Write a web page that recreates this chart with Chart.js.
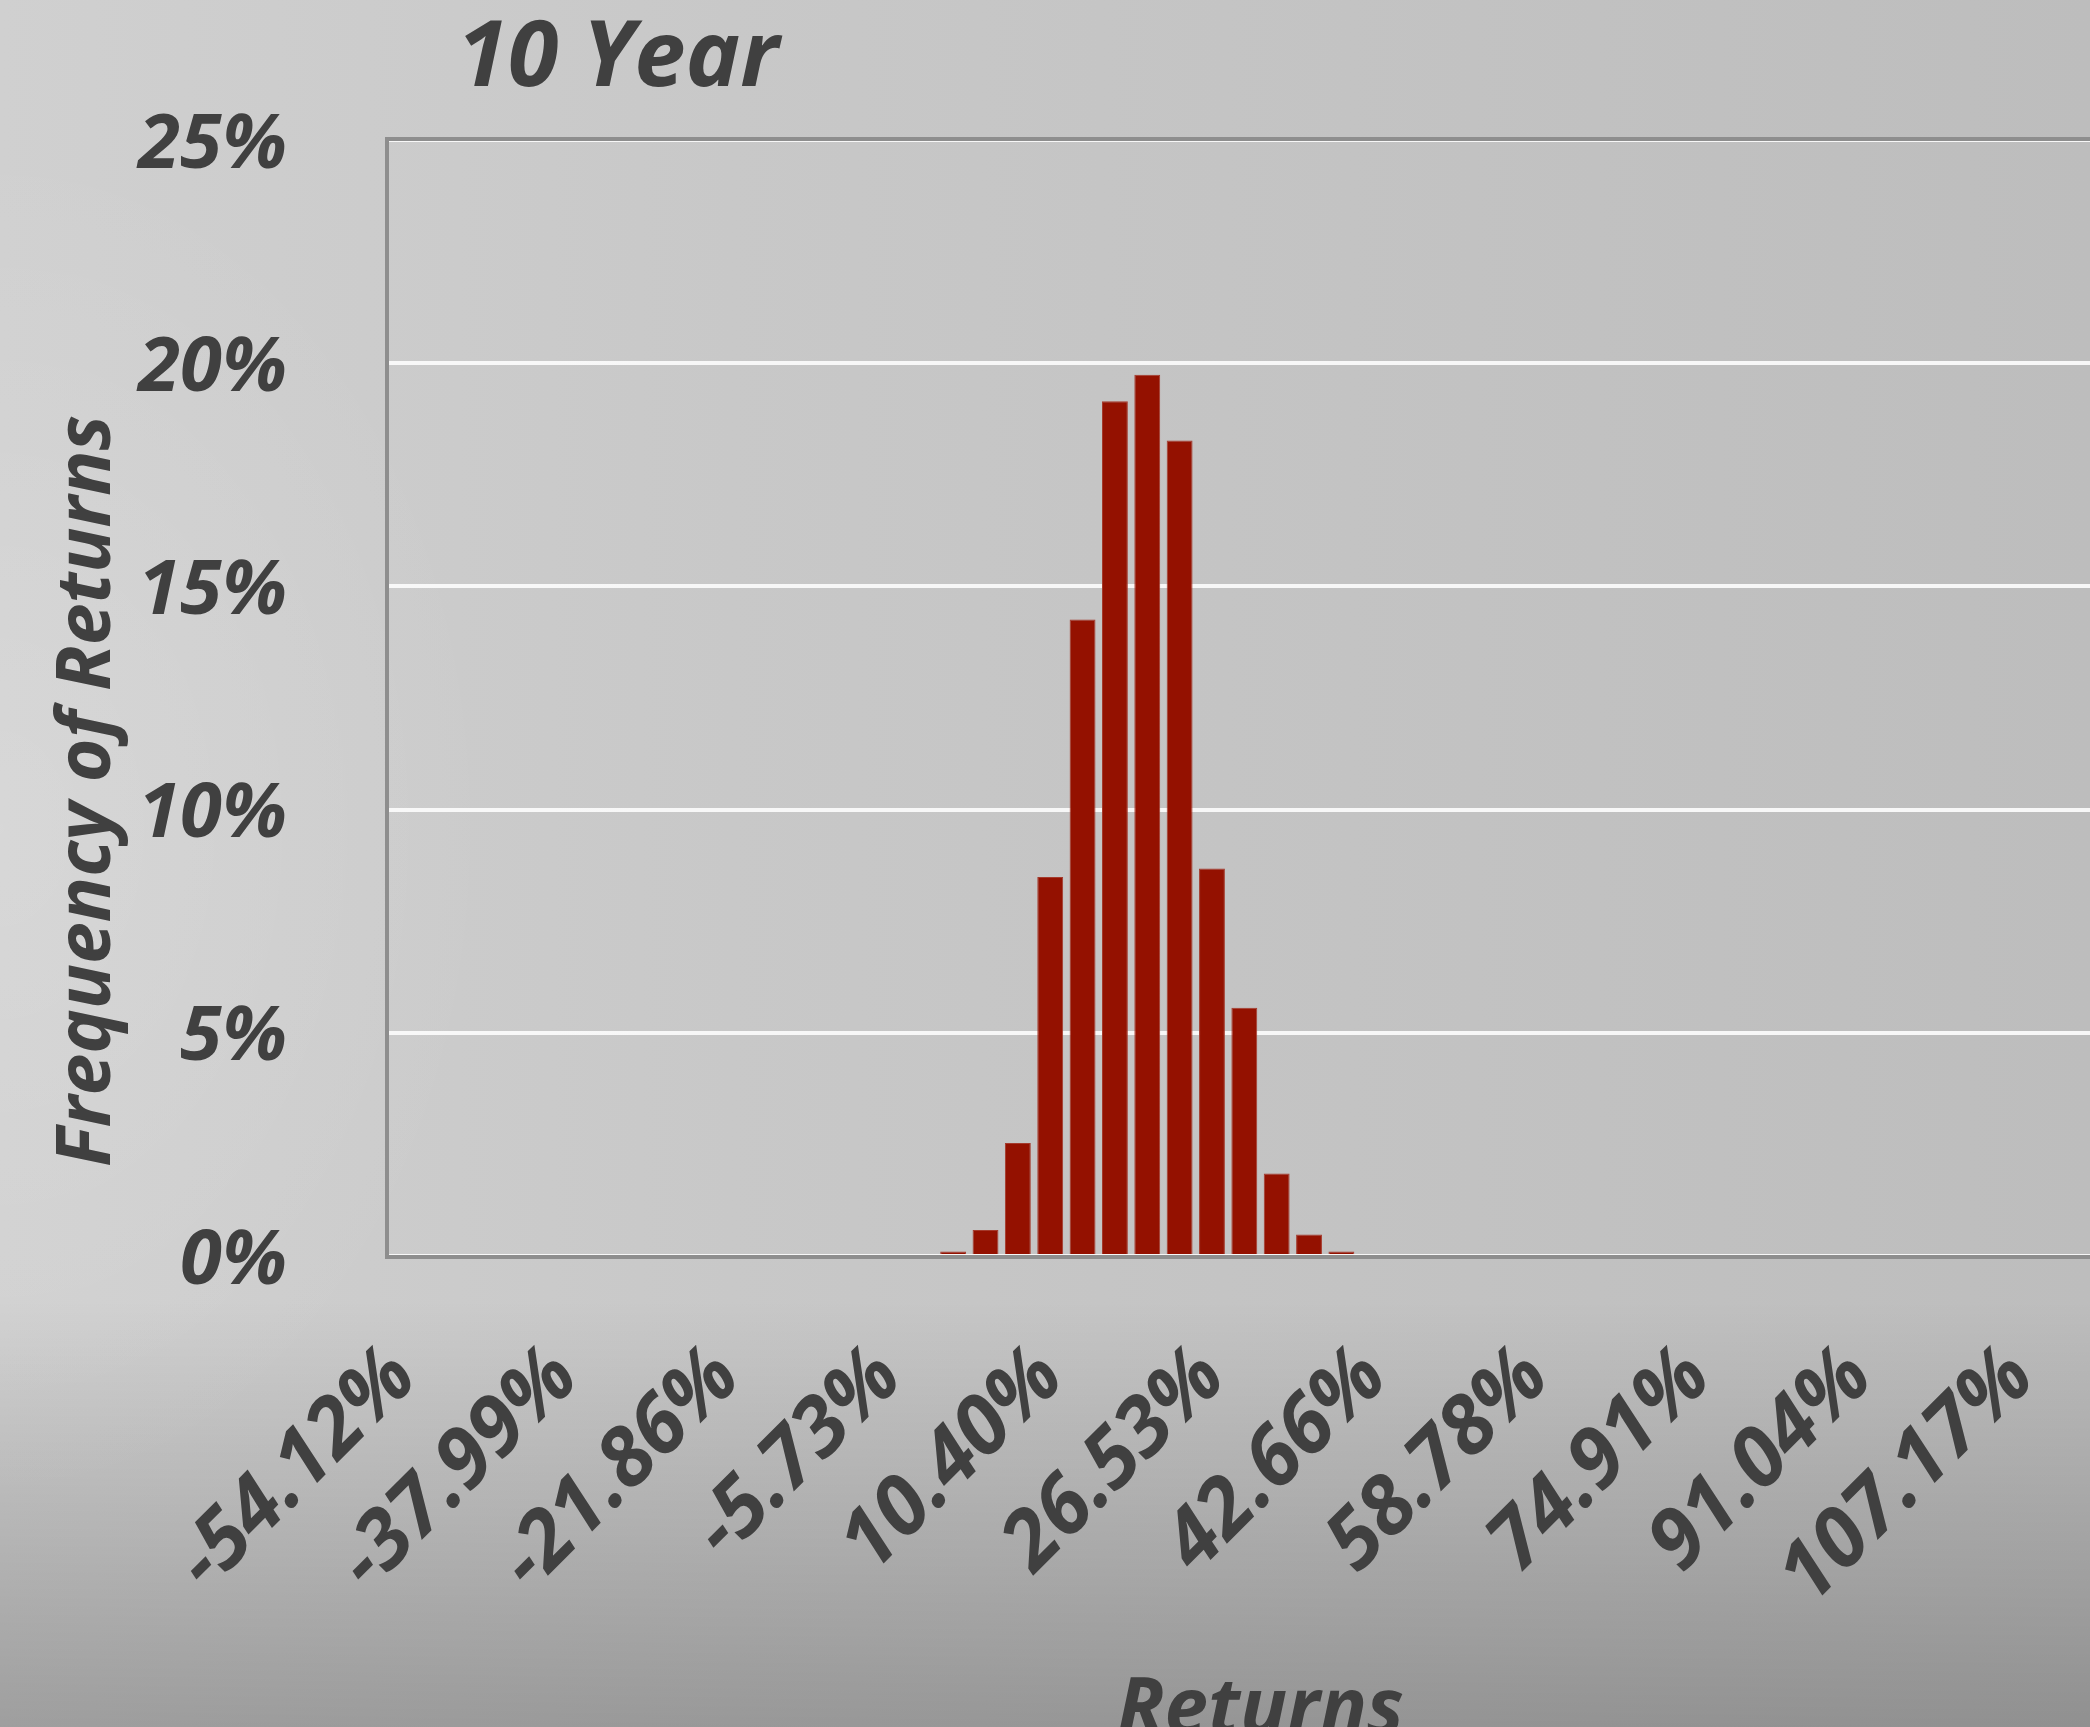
<!DOCTYPE html>
<html>
<head>
<meta charset="utf-8">
<title>10 Year</title>
<script src="https://cdn.jsdelivr.net/npm/chart.js@4.4.1/dist/chart.umd.min.js"></script>
<style>
    html, body {
        margin: 0;
        padding: 0;
        width: 2090px;
        height: 1727px;
        overflow: hidden;
    }
    body {
        background:
            linear-gradient(to bottom, rgba(0, 0, 0, 0) 0px, rgba(0, 0, 0, 0) 1300px, rgba(0, 0, 0, 0.24) 1727px),
            radial-gradient(ellipse 500px 700px at 0% 48%, rgba(255, 255, 255, 0.16), rgba(255, 255, 255, 0) 100%),
            linear-gradient(to right, #d0d0d0 0%, #c8c8c8 35%, #bdbdbd 100%);
    }
    canvas { display: block; }
</style>
</head>
<body>
<canvas id="histogram" width="2134" height="1727"></canvas>
<script>
/* ========================================
   10 year return distribution histogram
   ======================================== */

// Axis labels shown under every fifth bin
const tickLabels = ['-54.12%', '-37.99%', '-21.86%', '-5.73%', '10.40%', '26.53%',
                    '42.66%', '58.78%', '74.91%', '91.04%', '107.17%'];
const binsPerTick = 5;

// Share of returns falling in each bin (percent), one entry per bin
const frequency = [
    0, 0, 0, 0, 0, 0, 0, 0, 0, 0,
    0, 0, 0, 0, 0, 0, 0, 0.1, 0.58, 2.53,
    8.49, 14.26, 19.15, 19.74, 18.27, 8.68, 5.56, 1.85, 0.48, 0.1,
    0, 0, 0, 0, 0, 0, 0, 0, 0, 0,
    0, 0, 0, 0, 0, 0, 0, 0, 0, 0,
    0, 0, 0, 0
];

const yTicks = [0, 5, 10, 15, 20, 25];

const categories = frequency.map((_, i) =>
    i % binsPerTick === 0 && tickLabels[i / binsPerTick] ? tickLabels[i / binsPerTick] : '');

const TEXT = '#404040';
const FONT = '"Open Sans", "Noto Sans", sans-serif';

// Gray frame around the plot area
const plotFrame = {
    id: 'plotFrame',
    afterDatasetsDraw(chart) {
        const { ctx, chartArea: a } = chart;
        ctx.save();
        ctx.strokeStyle = '#8e8e8e';
        ctx.lineWidth = 4;
        ctx.beginPath();
        ctx.moveTo(a.right + 2, a.top - 1);
        ctx.lineTo(a.left, a.top - 1);
        ctx.lineTo(a.left, a.bottom + 1);
        ctx.lineTo(a.right + 2, a.bottom + 1);
        ctx.stroke();
        ctx.restore();
    }
};

// Chart title and the two axis titles
const headings = {
    id: 'headings',
    afterDraw(chart) {
        const { ctx, chartArea: a } = chart;
        ctx.save();
        ctx.fillStyle = TEXT;
        ctx.textAlign = 'center';
        ctx.textBaseline = 'alphabetic';
        ctx.font = `italic 700 92px ${FONT}`;
        ctx.fillText('10 Year', 618, 86);

        ctx.font = `italic 700 78px ${FONT}`;
        ctx.fillText('Returns', (a.left + a.right) / 2, 1734);

        ctx.translate(110, 791);
        ctx.rotate(-Math.PI / 2);
        ctx.font = `italic 700 75px ${FONT}`;
        ctx.fillText('Frequency of Returns', 0, 0);
        ctx.restore();
    }
};

new Chart(document.getElementById('histogram'), {
    type: 'bar',
    data: {
        labels: categories,
        datasets: [{
            label: 'Frequency of Returns',
            data: frequency,
            backgroundColor: '#941100',
            borderColor: '#a53a2c',
            borderWidth: 1,
            categoryPercentage: 1.0,
            barPercentage: 0.8
        }]
    },
    options: {
        responsive: false,
        animation: false,
        devicePixelRatio: 1,
        layout: {
            padding: { top: 140, left: 0, right: 0, bottom: 0 }
        },
        plugins: {
            legend: { display: false },
            tooltip: { enabled: false }
        },
        scales: {
            x: {
                afterFit: (scale) => {
                    scale.height = 471;
                    scale.paddingLeft = 0;
                    scale.paddingRight = 0;
                },
                grid: { display: false, drawTicks: false },
                border: { display: false },
                ticks: {
                    autoSkip: false,
                    maxRotation: 45,
                    minRotation: 45,
                    padding: 73,
                    color: TEXT,
                    font: { family: FONT, size: 82, style: 'italic', weight: 700 }
                }
            },
            y: {
                min: 0,
                max: 25,
                afterFit: (scale) => {
                    scale.width = 387;
                    scale.paddingTop = 0;
                    scale.paddingBottom = 0;
                },
                afterBuildTicks: (scale) => {
                    scale.ticks = yTicks.map(v => ({ value: v }));
                },
                grid: {
                    color: 'rgba(250, 250, 250, 0.95)',
                    lineWidth: 4,
                    drawTicks: false
                },
                border: { display: false },
                ticks: {
                    padding: 100,
                    labelOffset: 6,
                    color: TEXT,
                    font: { family: FONT, size: 76, style: 'italic', weight: 700 },
                    callback: (value) => value + '%'
                }
            }
        }
    },
    plugins: [plotFrame, headings]
});
</script>
</body>
</html>
